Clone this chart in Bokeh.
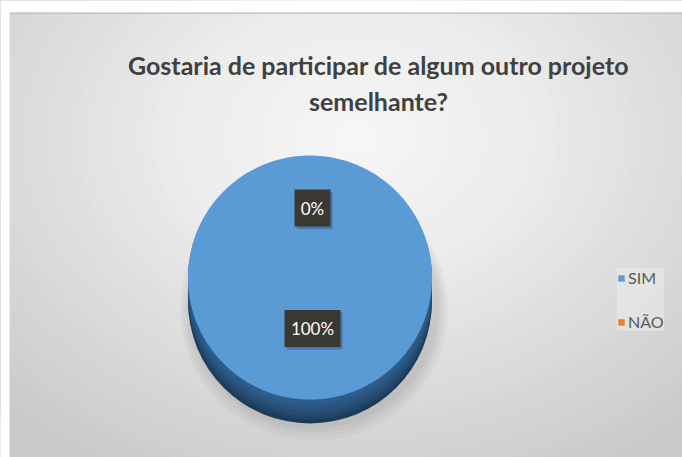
import numpy as np
from bokeh.plotting import figure
from bokeh.models import Range1d, Legend, LegendItem, ColumnDataSource, Label
from bokeh.core.properties import value
from bokeh.embed import file_html
from bokeh.resources import INLINE

# ---- data ----
categories = ["SIM", "NÃO"]
values = [100, 0]
pct_labels = ["100%", "0%"]
colors = ["#5B9BD5", "#ED7D31"]
title_lines = ["Gostaria de participar de algum outro projeto", "semelhante?"]

W, H = 682, 457
p = figure(width=W, height=H, output_backend="svg", toolbar_location=None,
           x_range=Range1d(0, W), y_range=Range1d(H, 0),
           min_border_left=0, min_border_right=0, min_border_top=0, min_border_bottom=0)
p.title.visible = False
p.axis.visible = False
p.grid.visible = False
p.outline_line_color = None
p.background_fill_color = "#c9c9c9"
p.border_fill_color = "#cbcbcb"

# radial background gradient (decoration)
gx, gy, grx, gry = 0.52 * W, 0.30 * H, 0.75 * W, 0.85 * H
stops_t = [0.0, 0.35, 0.70, 1.0]
stops_v = [247, 236, 217, 201]
N = 48
for k in range(N, 0, -1):
    t = k / N
    g = int(round(np.interp(t, stops_t, stops_v)))
    c = "#%02x%02x%02x" % (g, g, g)
    p.ellipse(x=[gx], y=[gy], width=[2 * grx * t], height=[2 * gry * t], fill_color=c, line_color=None)
# white margins (top / left) and top shade
p.quad(left=[0, 0], right=[W, 9], top=[0, 0], bottom=[12, H], fill_color="#ffffff", line_color=None)
p.quad(left=[9], right=[W], top=[12], bottom=[13.5], fill_color="#c4c4c4", line_color=None)

cx, cy, R, depth = 309.5, 277, 122, 24

# soft shadow
for i, a in enumerate([0.05, 0.05, 0.06, 0.07]):
    p.ellipse(x=[cx + 4], y=[cy + depth + 8 - i], width=[2 * R + 24 - 6 * i], height=[2 * R + 18 - 6 * i],
              fill_color="#6a6a6a", fill_alpha=a, line_color=None)

# pie side
side_cols = ["#1d3b59", "#214466", "#254c72", "#28527b", "#2b5882", "#2e5d89", "#31628f"]
offs = np.linspace(depth, 1, len(side_cols))
for off, c in zip(offs, side_cols):
    p.ellipse(x=[cx], y=[cy + off], width=[2 * R], height=[2 * R], fill_color=c, line_color=None)

# slices from data
total = float(sum(values))
starts, ends = [], []
acc = 0.0
for v in values:
    s = np.pi / 2 - 2 * np.pi * acc / total
    e = s - 2 * np.pi * v / total
    starts.append(s); ends.append(e)
    acc += v
xs, ys = [], []
for s, e in zip(starts, ends):
    n = max(2, int(abs(e - s) / (2 * np.pi) * 240))
    t = np.linspace(s, e, n)
    xs.append([cx] + list(cx + R * np.cos(t)) + [cx])
    ys.append([cy] + list(cy - R * np.sin(t)) + [cy])
src = ColumnDataSource(dict(xs=xs, ys=ys, color=colors, cat=categories))
r = p.patches("xs", "ys", source=src, fill_color="color", line_color=None)

# data labels
lx, ly, bw = [], [], []
for s, e, txt in zip(starts, ends, pct_labels):
    mid = (s + e) / 2
    d = 51 if txt == "100%" else 69.5
    lx.append(cx + 2.5 + d * np.cos(mid))
    ly.append(cy - d * np.sin(mid))
    bw.append(56 if len(txt) == 4 else 36)
bsrc = ColumnDataSource(dict(x=lx, y=ly, w=bw, t=pct_labels))
p.rect(x=[x + 2 for x in lx], y=[y + 2.5 for y in ly], width=bw, height=37,
       fill_color="#1f3550", fill_alpha=0.35, line_color=None)
p.rect("x", "y", width="w", height=37, source=bsrc, fill_color="#3b3834", line_color=None)
p.text("x", "y", text="t", source=bsrc, text_color="#ffffff", text_font=value("Lato"),
       text_font_size="17px", text_align="center", text_baseline="middle")

# title
for i, line in enumerate(title_lines):
    p.add_layout(Label(x=378, y=64 + 36 * i, text=line, text_align="center",
                       text_baseline="alphabetic", text_font="Lato", text_font_style="bold",
                       text_font_size="25px", text_color="#404040"))

legend = Legend(items=[LegendItem(label=c, renderers=[r], index=i) for i, c in enumerate(categories)],
                location=(617, 126), orientation="vertical",
                label_text_font="Lato", label_text_font_size="16px", label_text_color="#595959",
                glyph_width=8, glyph_height=8, label_height=18, spacing=25, padding=6,
                label_standoff=3, margin=0,
                background_fill_color="#eeeeee", background_fill_alpha=0.5,
                border_line_color=None)
p.add_layout(legend)

open("out.html", "w").write(file_html(p, INLINE))
